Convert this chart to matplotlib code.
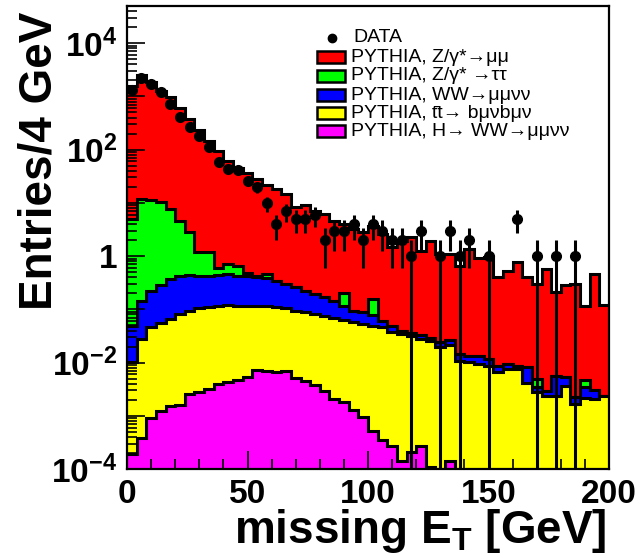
import numpy as np
import matplotlib
matplotlib.use("Agg")
import matplotlib.pyplot as plt
from matplotlib.ticker import MultipleLocator, LogLocator, FuncFormatter, NullFormatter
from matplotlib.lines import Line2D
from matplotlib.patches import Rectangle

plt.rcParams['font.family'] = ['Liberation Sans', 'DejaVu Sans']
plt.rcParams['font.weight'] = 'bold'
plt.rcParams['mathtext.fontset'] = 'custom'
plt.rcParams['mathtext.rm'] = 'Liberation Sans'
plt.rcParams['mathtext.it'] = 'Liberation Sans:italic'
plt.rcParams['mathtext.bf'] = 'Liberation Sans:bold'

# missing ET, 4 GeV bins from 0 to 200
edges = np.arange(0, 204, 4)

# stacked levels (top of each layer)
top_zmumu = [1570, 2520, 1860, 1260, 975, 617, 371, 231, 146, 95,
             61, 46, 37, 28, 21.5, 18, 15, 8.5, 9.0, 7.1,
             6.1, 4.6, 4.0, 3.3, 2.8, 3.7, 2.6, 1.5, 1.95, 2.3,
             1.26, 1.95, 1.09, 1.09, 0.66, 1.35, 0.92, 0.95, 0.40, 0.53,
             0.76, 0.40, 0.30, 0.57, 0.21, 0.29, 0.30, 0.117, 0.46, 0.12]
top_ztautau = [5.0, 11.7, 11.4, 10.2, 7.6, 4.6, 2.86, 1.2, 1.2, 0.61,
               0.71, 0.64, 0.49, 0.42, 0.46, 0.345, 0.30, 0.26, 0.224, 0.194,
               0.168, 0.145, 0.20, 0.094, 0.088, 0.156, 0.061, 0.049, 0.040, 0.036,
               0.033, 0.029, 0.024, 0.027, 0.0145, 0.0135, 0.013, 0.0117, 0.0088, 0.0094,
               0.0088, 0.0082, 0.0049, 0.0029, 0.0057, 0.0054, 0.0023, 0.0047, 0.0031, 0.0024]
top_ww = [0.049, 0.145, 0.224, 0.286, 0.37, 0.416, 0.44, 0.43, 0.43, 0.44,
          0.46, 0.416, 0.416, 0.40, 0.38, 0.345, 0.30, 0.26, 0.224, 0.194,
          0.168, 0.145, 0.117, 0.094, 0.088, 0.078, 0.061, 0.049, 0.040, 0.036,
          0.033, 0.029, 0.024, 0.027, 0.0145, 0.0135, 0.013, 0.0117, 0.0088, 0.0094,
          0.0088, 0.0082, 0.0035, 0.0029, 0.0057, 0.0054, 0.0023, 0.0035, 0.0031, 0.0024]
top_ttbar = [0.0104, 0.0277, 0.046, 0.055, 0.066, 0.082, 0.094, 0.104, 0.109, 0.117,
             0.12, 0.117, 0.117, 0.117, 0.114, 0.109, 0.104, 0.094, 0.088, 0.082,
             0.074, 0.068, 0.064, 0.059, 0.054, 0.049, 0.046, 0.038, 0.034, 0.031,
             0.028, 0.025, 0.0193, 0.021, 0.0109, 0.0102, 0.0094, 0.0088, 0.0066, 0.0076,
             0.0076, 0.0042, 0.0028, 0.0024, 0.0024, 0.0037, 0.0017, 0.0022, 0.0021, 0.0024]
top_higgs = [1.9e-4, 3.8e-4, 9e-4, 1.25e-3, 1.55e-3, 1.6e-3, 2.6e-3, 2.85e-3, 3.2e-3, 4.0e-3,
             4.4e-3, 4.7e-3, 5.3e-3, 7.4e-3, 6.8e-3, 6.6e-3, 7.0e-3, 5.1e-3, 4.6e-3, 3.8e-3,
             2.95e-3, 2.05e-3, 1.8e-3, 1.28e-3, 9.5e-4, 5.1e-4, 3.5e-4, 2.7e-4, 1.4e-4, 2.1e-4,
             2.7e-4, 1.1e-4, 0, 1.4e-4, 0, 0, 0, 0, 0, 0,
             0, 0, 0, 0, 0, 0, 0, 0, 0, 0]
data_counts = [1320, 2240, 1740, 1210, 733, 418, 267, 181, 110, 59,
               43, 42, 26, 20, 10, 4, 7, 5, 5, 6,
               2, 3, 3, 4, 2, 4, 3, 2, 2, 1,
               3, 0, 1, 3, 1, 2, 0, 1, 0, 0,
               5, 0, 1, 0, 1, 0, 1, 0, 0, 0]

labels = ['PYTHIA, Z/\u03b3*\u2192\u03bc\u03bc',
          'PYTHIA, Z/\u03b3* \u2192\u03c4\u03c4',
          'PYTHIA, WW\u2192\u03bc\u03bc\u03bd\u03bd',
          'PYTHIA, t\u0304t\u2192 b\u03bc\u03bdb\u03bc\u03bd',
          'PYTHIA, H\u2192 WW\u2192\u03bc\u03bc\u03bd\u03bd']
colors = ['#ff0000', '#00ff00', '#0000ff', '#ffff00', '#ff00ff']

fig = plt.figure(figsize=(6.39, 5.55), dpi=100)
ax = fig.add_axes([127/639, 86/555, 482/639, 463/555])
ax.set_yscale('log')
floor = 1e-6

layers = [top_zmumu, top_ztautau, top_ww, top_ttbar, top_higgs]
for vals, col in zip(layers, colors):
    v = np.clip(np.array(vals, float), floor, None)
    ax.stairs(v, edges, baseline=floor, fill=True, color=col, lw=0)
    ax.stairs(v, edges, baseline=None, color='k', lw=2.2)

n = np.array(data_counts, float)
centers = 0.5 * (edges[:-1] + edges[1:])
m = n > 0
err = np.sqrt(n)
ax.vlines(centers[m], np.clip(n - err, floor, None)[m], (n + err)[m], color='k', lw=2.2)
ax.plot(centers[m], n[m], 'o', color='k', ms=7)

ax.set_xlim(0, 200)
ax.set_ylim(1e-4, 5e4)
ax.xaxis.set_major_locator(MultipleLocator(50))
ax.xaxis.set_minor_locator(MultipleLocator(10))
ax.yaxis.set_major_locator(LogLocator(base=10, numticks=30))
ax.yaxis.set_minor_locator(LogLocator(base=10, subs=np.arange(2, 10), numticks=30))
ax.yaxis.set_minor_formatter(NullFormatter())


def yfmt(v, pos):
    e = int(round(np.log10(v)))
    if e % 2:
        return ''
    if e == 0:
        return '1'
    return r'$\mathbf{10}^{\mathbf{%d}}$' % e


ax.yaxis.set_major_formatter(FuncFormatter(yfmt))
ax.tick_params(which='both', direction='in', top=False, right=False, width=1.2)
ax.tick_params(which='major', length=13, labelsize=24, pad=7)
ax.tick_params(which='minor', length=7)
for s in ax.spines.values():
    s.set_linewidth(1.6)

# legend, drawn row by row like the ROOT TLegend
row_y = [38, 57, 76, 95, 113, 131]
fig.add_artist(Line2D([332/639], [1 - row_y[0]/555], marker='o', color='k', ms=6,
                      transform=fig.transFigure))
fig.text(353/639, 1 - row_y[0]/555, 'DATA', va='center', fontsize=14, weight='normal')
for y, lab, col in zip(row_y[1:], labels, colors):
    fig.add_artist(Rectangle((317/639, 1 - (y + 6)/555), 28/639, 12/555, facecolor=col,
                             edgecolor='k', lw=1.8, transform=fig.transFigure))
    fig.text(351/639, 1 - y/555, lab, va='center', fontsize=14, weight='normal')

fig.text(40/639, 1 - 12/555, 'Entries/4 GeV', rotation=90, ha='center', va='top',
         fontsize=33, weight='bold')
fig.text(606/639, 1 - 543/555, r'missing E$_{\mathbf{T}}$ [GeV]', ha='right',
         va='baseline', fontsize=33, weight='bold')

fig.savefig('out.png', dpi=100)
